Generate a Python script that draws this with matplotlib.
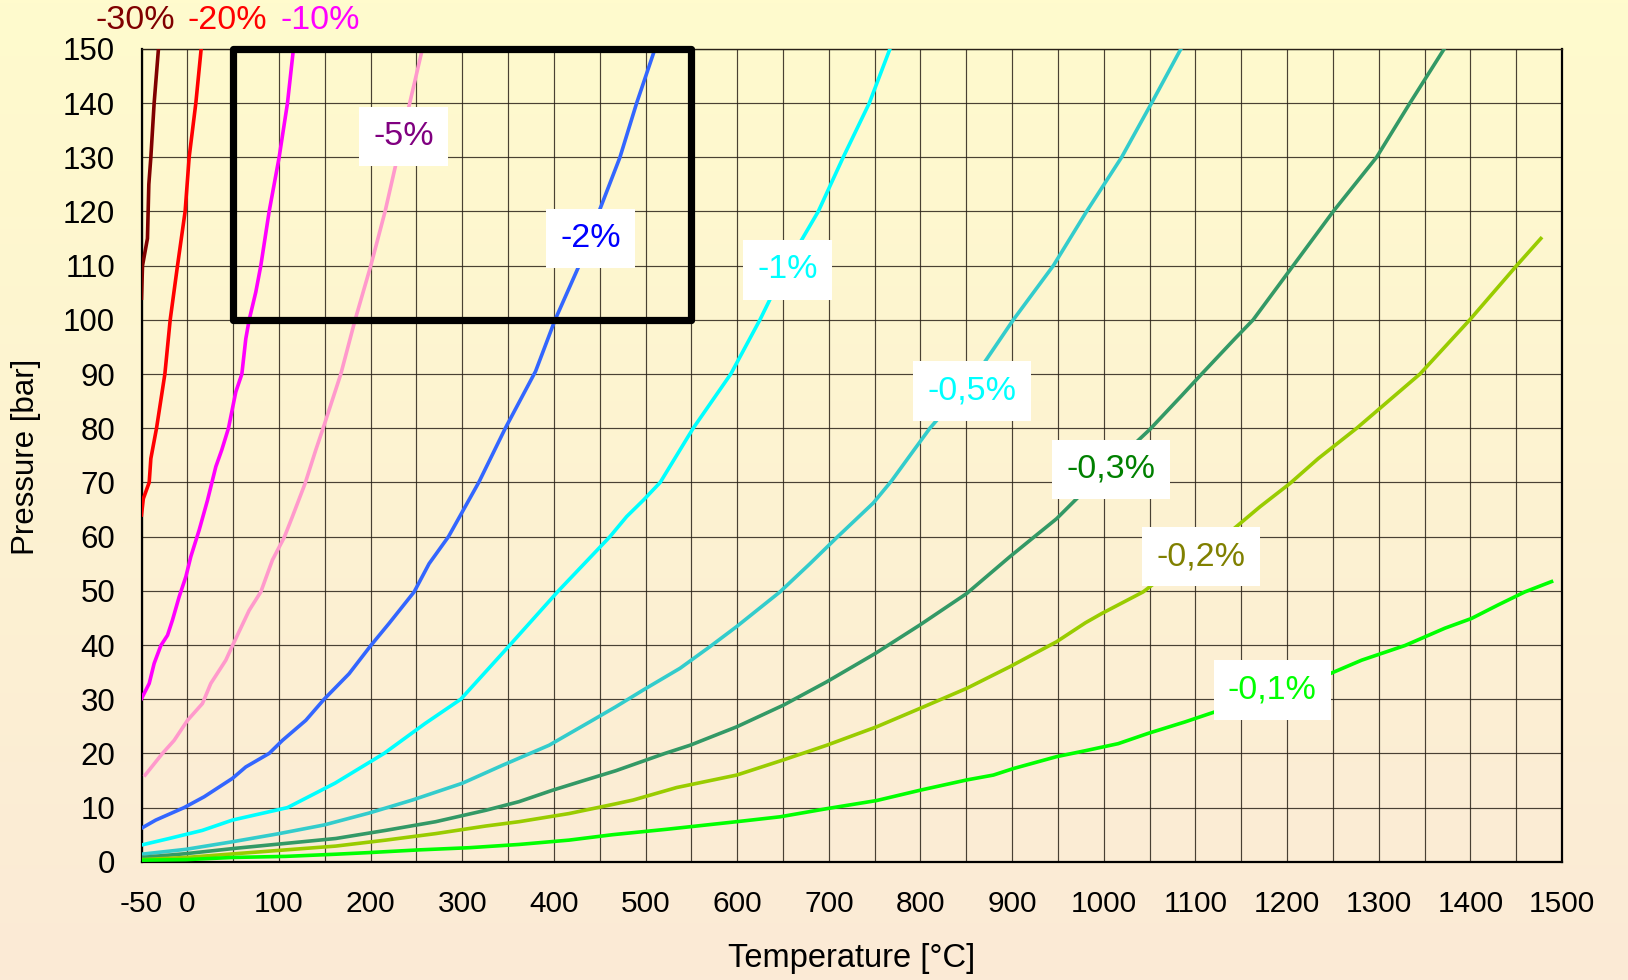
import numpy as np
import matplotlib
matplotlib.use("Agg")
import matplotlib.pyplot as plt
from matplotlib.patches import Rectangle

plt.rcParams['font.family'] = ['Liberation Sans', 'DejaVu Sans']

# Iso-deviation curves: temperature [°C] vs pressure [bar]
T_m30 = [-50, -48.9, -43.5, -42.0, -39.8, -36.2, -31.5]
P_m30 = [104, 110, 115, 125, 130, 140, 150]

T_m20 = [-50, -48, -41.6, -39.8, -33.6, -24.5, -18.7, -10.7, -2.4, 2.0, 9.3, 15.1]
P_m20 = [64, 67, 70, 74.4, 80, 90, 100, 110, 120, 130, 140, 150]

T_m10 = [-50, -41.6, -36.2, -28.9, -21.6, -16.2, -8.9, -1.6, 3.8, 12.9, 22.0, 31.1,
         37.6, 44.9, 52.9, 59.5, 63.8, 67.5, 74.7, 80.2, 89.3, 100.2, 109.3, 115.8]
P_m10 = [30.1, 32.9, 36.6, 39.9, 41.8, 44.6, 48.9, 52.6, 56.3, 61.2, 66.7, 72.9,
         76.0, 80, 86.7, 90, 96.5, 100, 105.1, 110, 120, 130, 140, 150]

T_m5 = [-46, -27.1, -14.4, 0.2, 16.5, 25.6, 42.0, 49.3, 67.5, 80.2, 92.9, 105.6, 114.7,
        128.5, 140.2, 148.2, 167.5, 183.1, 200.2, 215.8, 229.3, 242.7, 256.5]
P_m5 = [16, 20, 22.4, 26.1, 29.2, 32.9, 37.2, 39.9, 46.4, 49.8, 55.7, 59.8, 63.7,
        69.8, 76, 80, 90, 100, 110, 120, 130, 140, 150]

T_m2 = [-50, -34.4, -3.5, 18.4, 49.3, 63.8, 89.3, 103.8, 129.3, 149.3, 176.5, 200.2, 220.2,
        247.5, 263.8, 285.0, 318.0, 347.0, 380.0, 401.3, 427.5, 449.3,
        472.1, 490.3, 510.3]
P_m2 = [6.2, 7.7, 10, 12, 15.4, 17.5, 20, 22.4, 26.1, 30, 34.7, 39.9, 44,
        49.8, 55, 60, 70, 80, 90.5, 100, 110, 120,
        130, 140, 150]

T_m1 = [-50, -19.8, 16.5, 49.3, 109.3, 161.1, 214.7, 259.3, 298.4, 352.0, 405.0,
        461.2, 479.4, 497.5, 516.0, 552.0, 593.0, 624.8, 653.9, 688.5,
        715.7, 744.2, 766.7]
P_m1 = [3.1, 4.3, 5.8, 7.7, 10, 14.5, 20, 25.5, 30, 40, 50,
        60, 63.7, 66.7, 70, 80, 90, 100, 110, 120,
        130, 140, 150]

T_m05 = [-50, -1.6, 49.3, 100.2, 149.3, 198.4, 245.6, 300.2, 343.8, 394.7, 442.0, 467.5,
         497.5, 537.6, 570.3, 599.4, 646.7, 679.4, 708.5, 748.5, 768.5, 793.0, 810.3,
         861.2, 901.3, 945.0, 981.3, 1019.5, 1052.2, 1084.2]
P_m05 = [1.4, 2.3, 3.7, 5.2, 6.8, 9.0, 11.4, 14.5, 17.8, 21.5, 26.1, 28.6,
         31.7, 35.7, 39.7, 43.4, 49.8, 55, 59.8, 66.2, 70.3, 76, 80,
         90, 100, 110, 120, 130, 140, 150]

T_m03 = [-50, -1.6, 52.9, 107.5, 162.0, 216.5, 271.0, 325.6, 362.0, 398.4, 434.7, 467.5,
         521.2, 548.5, 599.4, 650.4, 697.6, 750.3, 799.4, 850.4, 897.6, 923.0, 948.5,
         977.6, 1050.4, 1084.9, 1106.8, 1143.0, 1163.0, 1206.7, 1250.4, 1297.7, 1334.1, 1371.5]
P_m03 = [0.8, 1.5, 2.5, 3.4, 4.3, 5.8, 7.4, 9.5, 11.1, 13.2, 15.1, 16.8,
         20, 21.5, 24.9, 28.9, 33.2, 38.4, 43.7, 49.5, 56.3, 59.8, 63.3,
         68.2, 79.8, 86, 90, 96.5, 100, 110, 120, 130, 140, 150]

T_m02 = [-50, -1.6, 52.9, 107.5, 162.0, 216.5, 271.0, 325.6, 362.0, 416.5, 467.5,
         486.6, 533.9, 599.4, 650.4, 697.6, 752.1, 799.4, 850.4, 897.6, 948.5, 980.0,
         997.7, 1043.0, 1088.5, 1130.3, 1170.4, 1203.1, 1234.0, 1276.0, 1345.0, 1399.4,
         1450.5, 1476.9]
P_m02 = [0.4, 0.8, 1.5, 2.2, 2.9, 4.0, 5.2, 6.6, 7.4, 8.9, 10.7,
         11.4, 13.7, 16.0, 18.8, 21.5, 24.9, 28.3, 32.0, 36.0, 40.6, 44.1,
         45.8, 49.8, 55.7, 59.8, 65.5, 69.8, 74.4, 80, 90, 100,
         110, 115]

T_m01 = [-50, -1.6, 49.3, 107.5, 162.0, 198.4, 252.9, 307.5, 362.0, 416.5, 464.0,
         523.0, 599.4, 646.7, 697.6, 752.1, 799.4, 850.4, 879.5, 901.3, 948.5, 980.0,
         1015.8, 1048.5, 1088.5, 1121.9, 1246.8, 1281.4, 1328.6, 1372.2, 1401.3, 1430.4,
         1459.5, 1488.6]
P_m01 = [0.3, 0.4, 0.8, 1.0, 1.4, 1.7, 2.2, 2.6, 3.2, 4.0, 5.0,
         6.0, 7.4, 8.3, 9.8, 11.3, 13.2, 15.1, 16.0, 17.2, 19.4, 20.5,
         21.8, 23.7, 25.8, 27.7, 34.7, 37.2, 39.9, 43.1, 44.9, 47.4,
         49.8, 51.7]

curve_T = [T_m30, T_m20, T_m10, T_m5, T_m2, T_m1, T_m05, T_m03, T_m02, T_m01]
curve_P = [P_m30, P_m20, P_m10, P_m5, P_m2, P_m1, P_m05, P_m03, P_m02, P_m01]
curve_colors = ['#800000', '#FF0000', '#FF00FF', '#FF99CC', '#3366FF',
                '#00FFFF', '#33CCCC', '#339966', '#99CC00', '#00FF00']

# Boxed labels inside the plot: text, colour, (T, P) of box centre
box_texts = ['-5%', '-2%', '-1%', '-0,5%', '-0,3%', '-0,2%', '-0,1%']
box_colors = ['#800080', '#0000FF', '#00FFFF', '#00FFFF', '#008000', '#808000', '#00FF00']
box_T = [236, 440, 655, 856, 1008, 1106, 1184]
box_P = [133.8, 115.0, 109.2, 86.9, 72.4, 56.3, 31.7]

# Labels above the plot for the three steepest curves
top_texts = ['-30%', '-20%', '-10%']
top_colors = ['#800000', '#FF0000', '#FF00FF']
top_T = [-57, 44, 145]
top_P = [155.2, 155.2, 155.2]

# Highlighted operating window
window_T = (50, 550)
window_P = (100, 150)

x_ticks = [-50, 0, 100, 200, 300, 400, 500, 600, 700, 800, 900, 1000, 1100, 1200, 1300, 1400, 1500]
y_ticks = list(range(0, 151, 10))

W, H = 1628, 980
fig = plt.figure(figsize=(W / 100, H / 100), dpi=100)

# Vertical background gradient (pale yellow to peach)
bg = fig.add_axes([0, 0, 1, 1], zorder=-10)
top_c = np.array([255, 251, 205]) / 255
bot_c = np.array([251, 234, 214]) / 255
t = np.linspace(0, 1, 256)[:, None]
grad = top_c[None, :] * (1 - t) + bot_c[None, :] * t
bg.imshow(grad[:, None, :], aspect='auto', extent=[0, 1, 0, 1], origin='upper')
bg.set_axis_off()

left, right, top, bottom = 141.5, 1562.0, 48.8, 861.8
ax = fig.add_axes([left / W, 1 - bottom / H, (right - left) / W, (bottom - top) / H])
ax.patch.set_alpha(0)
ax.set_xlim(-50, 1500)
ax.set_ylim(0, 150)

ax.set_yticks(y_ticks)
ax.set_xticks(x_ticks)
ax.set_xticks(np.arange(-50, 1501, 50), minor=True)
ax.grid(True, which='major', color='#2a2218', linewidth=0.85, alpha=0.85)
ax.grid(True, which='minor', axis='x', color='#2a2218', linewidth=0.85, alpha=0.85)
ax.set_axisbelow(True)
ax.set_xticklabels([str(v) for v in x_ticks], fontsize=21.5)
ax.set_yticklabels([str(v) for v in y_ticks], fontsize=22.5)
ax.tick_params(axis='both', which='both', length=0)
ax.tick_params(axis='x', pad=20)
ax.tick_params(axis='y', pad=19)

for side in ['left', 'bottom', 'right']:
    ax.spines[side].set_linewidth(1.6)
    ax.spines[side].set_color('black')
ax.spines['top'].set_linewidth(1.0)
ax.spines['top'].set_color('#2a2218')

for Ts, Ps, c in zip(curve_T, curve_P, curve_colors):
    ax.plot(Ts, Ps, color=c, linewidth=2.6, solid_joinstyle='round', zorder=3)

ax.add_patch(Rectangle((window_T[0], window_P[0]), window_T[1] - window_T[0],
                       window_P[1] - window_P[0], fill=False, edgecolor='black',
                       linewidth=5.2, joinstyle='round', clip_on=False, zorder=5))

for s, c, x, y in zip(box_texts, box_colors, box_T, box_P):
    ax.text(x, y, s, color=c, fontsize=24.5, ha='center', va='center', zorder=6,
            bbox=dict(boxstyle='square,pad=0.42', facecolor='white', edgecolor='none'))

for s, c, x, y in zip(top_texts, top_colors, top_T, top_P):
    ax.text(x, y, s, color=c, fontsize=24.5, ha='center', va='center', clip_on=False)

fig.text(851.8 / W, 1 - 958 / H, 'Temperature [°C]', fontsize=23.5, ha='center', va='center')
fig.text(26 / W, 1 - 457 / H, 'Pressure [bar]', fontsize=22.5, ha='center', va='center',
         rotation=90)

fig.savefig('out.png', dpi=100)
